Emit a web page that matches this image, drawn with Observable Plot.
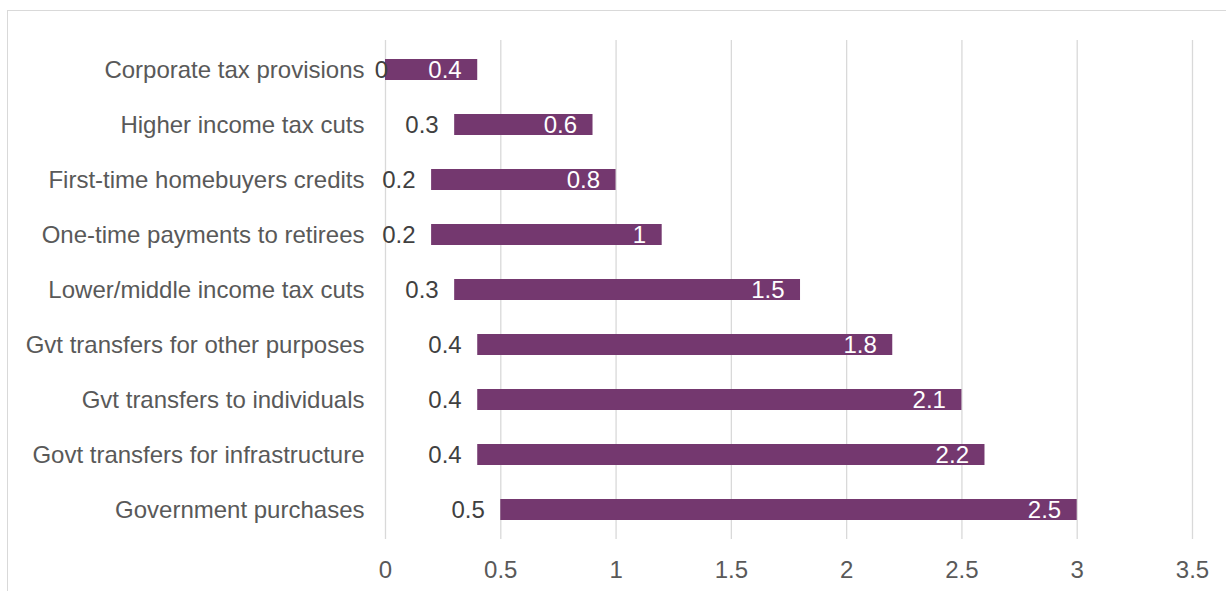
<!DOCTYPE html>
<html>
<head>
<meta charset="utf-8">
<script src="https://cdn.jsdelivr.net/npm/d3@7"></script>
<script src="https://cdn.jsdelivr.net/npm/@observablehq/plot@0.6"></script>
<style>
  html, body { margin: 0; padding: 0; background: #fff; overflow: hidden; }
  #frame { position: absolute; left: 7px; top: 10px; width: 1400px; height: 800px;
           border: 1.5px solid #d9d9d9; box-sizing: border-box; }
  #chart { position: absolute; left: 0; top: 0; }
</style>
</head>
<body>
<div id="frame"></div>
<div id="chart"></div>
<script>
const categories = [
  "Corporate tax provisions",
  "Higher income tax cuts",
  "First-time homebuyers credits",
  "One-time payments to retirees",
  "Lower/middle income tax cuts",
  "Gvt transfers for other purposes",
  "Gvt transfers to individuals",
  "Govt transfers for infrastructure",
  "Government purchases"
];
const lowValues   = [0, 0.3, 0.2, 0.2, 0.3, 0.4, 0.4, 0.4, 0.5];
const rangeValues = [0.4, 0.6, 0.8, 1, 1.5, 1.8, 2.1, 2.2, 2.5];
const xTicks = [0, 0.5, 1, 1.5, 2, 2.5, 3, 3.5];

const rows = categories.map((c, i) => ({
  category: c,
  low: lowValues[i],
  range: rangeValues[i],
  high: lowValues[i] + rangeValues[i]
}));

const font = "'Liberation Sans', Arial, sans-serif";
const chart = Plot.plot({
  width: 1226,
  height: 591,
  marginLeft: 385,
  marginRight: 34,
  marginTop: 40,
  marginBottom: 52,
  style: { fontFamily: font, fontSize: "24px", background: "transparent", color: "#595959" },
  x: { domain: [0, 3.5], ticks: xTicks, tickFormat: d => String(d), tickSize: 0, tickPadding: 21, label: null },
  y: { domain: categories, paddingInner: 0.62, paddingOuter: 0.31, tickSize: 0, tickPadding: 21, label: null },
  marks: [
    Plot.ruleX(xTicks, { stroke: "#d9d9d9", strokeWidth: 1.3 }),
    Plot.barX(rows, { y: "category", x1: "low", x2: "high", fill: "#74386f" }),
    Plot.text(rows.filter(d => d.low !== 0), { y: "category", x: "low", text: d => String(d.low),
      textAnchor: "end", dx: -16, fill: "#404040", fontSize: 24 }),
    Plot.text(rows.filter(d => d.low === 0), { y: "category", x: "low", text: d => String(d.low),
      textAnchor: "middle", dx: -4, fill: "#404040", fontSize: 24 }),
    Plot.text(rows, { y: "category", x: "high", text: d => String(d.range),
      textAnchor: "end", dx: -16, fill: "#ffffff", fontSize: 24 })
  ]
});
document.getElementById("chart").appendChild(chart);
</script>
</body>
</html>
